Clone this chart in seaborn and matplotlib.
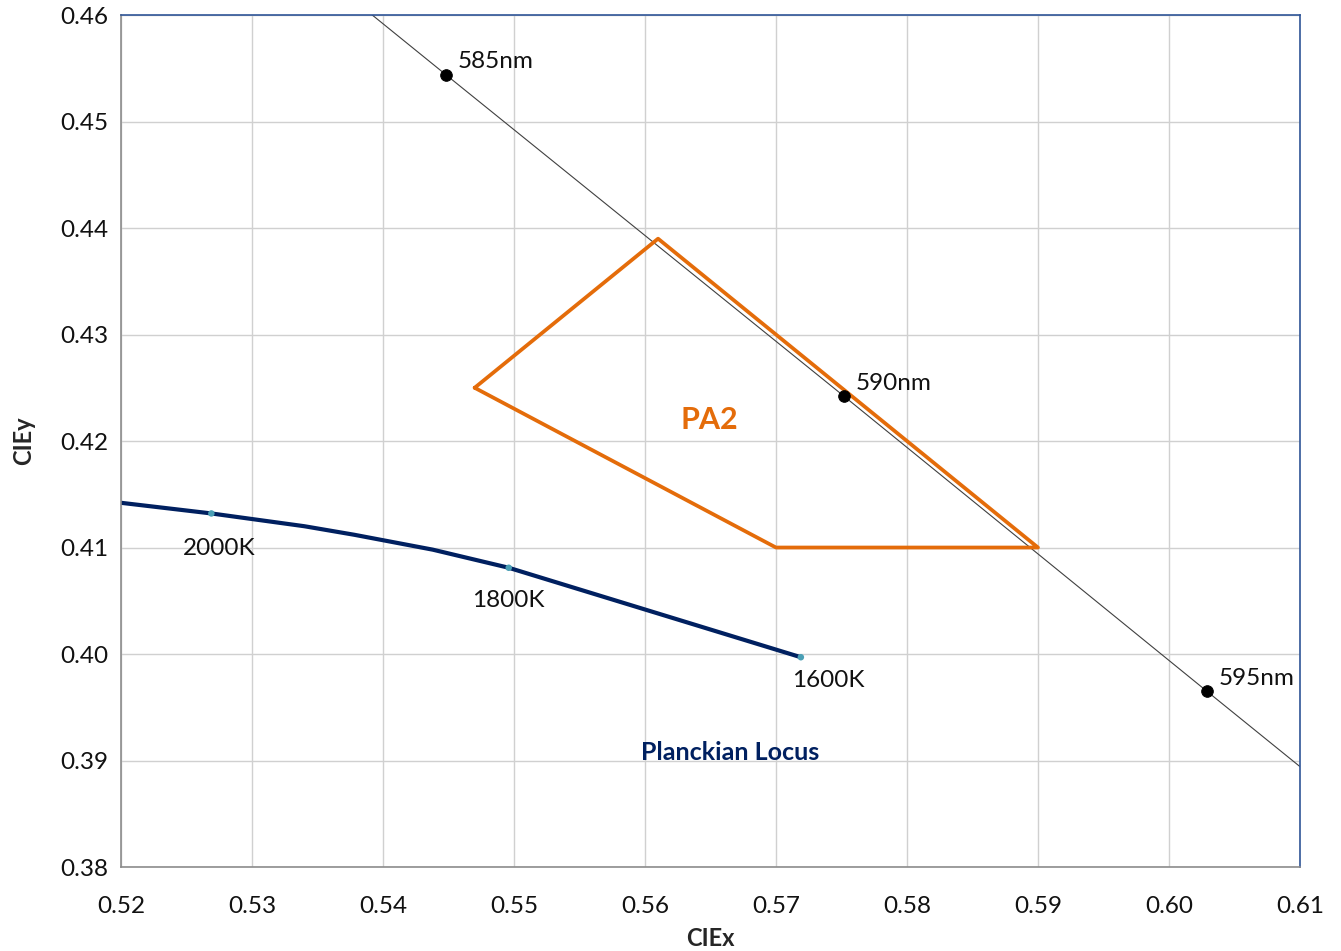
"""
CIE 1931 chromaticity detail: PA2 amber region near the Planckian locus
"""

import pandas as pd
import numpy as np
import matplotlib.pyplot as plt
import seaborn as sns


# Spectral locus points (nm, x, y)
spec_nm = [580, 585, 590, 595, 600]
spec_x = [0.5125, 0.5448, 0.5752, 0.6029, 0.6270]
spec_y = [0.4866, 0.4544, 0.4242, 0.3965, 0.3725]
spec_labels = ['585nm', '590nm', '595nm']

# PA2 region corners
pa2_x = [0.547, 0.561, 0.590, 0.570, 0.547]
pa2_y = [0.425, 0.439, 0.410, 0.410, 0.425]

# Planckian locus
planck_x = [0.5200, 0.5269, 0.5340, 0.5378, 0.5438, 0.5496, 0.5719]
planck_y = [0.4142, 0.4132, 0.4120, 0.4112, 0.4098, 0.4081, 0.3997]
cct_labels = ['2000K', '1800K', '1600K']
cct_x = [0.5269, 0.5496, 0.5719]
cct_y = [0.4132, 0.4081, 0.3997]


def main():
    sns.set_style("white")
    plt.rcParams['font.family'] = ['Lato', 'DejaVu Sans']

    fig = plt.figure(figsize=(13.41, 9.51), dpi=100)
    ax = fig.add_axes([0.0902, 0.0883, 0.8792, 0.8959])

    # Spectral locus line
    df_spec = pd.DataFrame({'x': spec_x, 'y': spec_y})
    sns.lineplot(data=df_spec, x='x', y='y', sort=False, estimator=None,
                 color='#404040', linewidth=0.8, ax=ax)
    df_mark = df_spec.iloc[1:4]
    sns.scatterplot(data=df_mark, x='x', y='y', color='black', s=70,
                    edgecolor='black', zorder=5, ax=ax)
    for lab, (_, r) in zip(spec_labels, df_mark.iterrows()):
        ax.text(r['x'] + 0.0009, r['y'] + 0.0012, lab, fontsize=17.5,
                color='#111111', ha='left', va='center')

    # PA2 region
    df_pa2 = pd.DataFrame({'x': pa2_x, 'y': pa2_y})
    sns.lineplot(data=df_pa2, x='x', y='y', sort=False, estimator=None,
                 color='#E46C0A', linewidth=2.7, ax=ax)
    ax.text(0.5649, 0.4220, 'PA2', fontsize=22, fontweight='bold',
            color='#E46C0A', ha='center', va='center')

    # Planckian locus
    df_pl = pd.DataFrame({'x': planck_x, 'y': planck_y})
    sns.lineplot(data=df_pl, x='x', y='y', sort=False, estimator=None,
                 color='#002060', linewidth=3.0, ax=ax)
    sns.scatterplot(x=cct_x, y=cct_y, color='#4a9fb5', s=22,
                    edgecolor='none', zorder=5, ax=ax)
    offsets = [(0.0006, -0.0033), (0.0000, -0.0031), (0.0021, -0.0022)]
    for lab, x, y, (dx, dy) in zip(cct_labels, cct_x, cct_y, offsets):
        ax.text(x + dx, y + dy, lab, fontsize=17.5, color='#111111',
                ha='center', va='center')
    ax.text(0.5665, 0.3908, 'Planckian Locus', fontsize=18,
            fontweight='bold', color='#002060', ha='center', va='center')

    # Axes styling
    ticks_x = np.arange(0.52, 0.6101, 0.01)
    ticks_y = np.arange(0.38, 0.4601, 0.01)
    ax.set_xlim(0.52, 0.61)
    ax.set_ylim(0.38, 0.46)
    ax.set_xticks(ticks_x)
    ax.set_yticks(ticks_y)
    ax.set_xticklabels([f'{v:.2f}' for v in ticks_x])
    ax.set_yticklabels([f'{v:.2f}' for v in ticks_y])
    ax.grid(True, color='#d0d0d0', linewidth=1.0)
    ax.set_axisbelow(True)
    ax.tick_params(axis='both', labelsize=17.5, length=7, width=1,
                   direction='out', color='#8c8c8c', labelcolor='#111111')
    ax.tick_params(axis='x', pad=14)
    ax.tick_params(axis='y', pad=2)

    for side in ['left', 'bottom']:
        ax.spines[side].set_color('#8c8c8c')
        ax.spines[side].set_linewidth(1.2)
    for side in ['top', 'right']:
        ax.spines[side].set_color('#2f5597')
        ax.spines[side].set_linewidth(1.2)

    ax.set_xlabel('CIEx', fontsize=17, fontweight='bold', labelpad=7)
    ax.set_ylabel('CIEy', fontsize=17, fontweight='bold', labelpad=18)

    fig.savefig('out.png', dpi=100)
    plt.close(fig)


if __name__ == "__main__":
    main()
